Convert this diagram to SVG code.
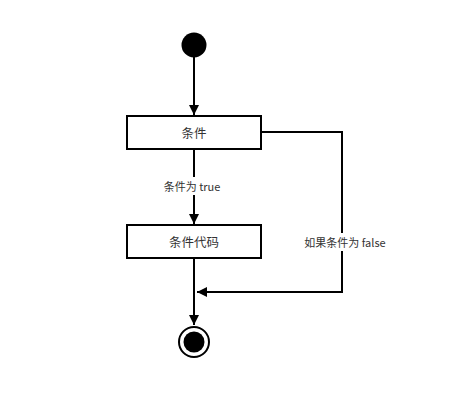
<svg xmlns="http://www.w3.org/2000/svg" width="466" height="400" viewBox="0 0 466 400">
<defs>
<style>
.node rect{fill:#fff;stroke:#000;stroke-width:2}
.t{font-family:"Noto Sans CJK SC","Noto Sans",sans-serif;fill:#333;text-anchor:middle;dominant-baseline:central}
.edge{fill:none;stroke:#000;stroke-width:2}
</style>
<marker id="arr" viewBox="0 0 10 10" refX="10" refY="5" markerWidth="12" markerHeight="10" markerUnits="userSpaceOnUse" orient="auto">
<path d="M0,0 L10,5 L0,10 z" fill="#000"/>
</marker>
</defs>
<rect width="466" height="400" fill="#fff"/>
<g id="connectors">
<path class="edge" d="M194,57 V115" marker-end="url(#arr)"/>
<path class="edge" d="M194,149 V224" marker-end="url(#arr)"/>
<path class="edge" d="M261,132 H342 V292 H197" marker-end="url(#arr)"/>
<path class="edge" d="M194,258 V325" marker-end="url(#arr)"/>
<rect x="161" y="177" width="64" height="18" fill="#fff"/>
<text class="t" x="192" y="186" font-size="11">条件为 true</text>
<rect x="300" y="233" width="90" height="18" fill="#fff"/>
<text class="t" x="345" y="242" font-size="11">如果条件为 false</text>
</g>
<g id="start"><circle cx="194" cy="45" r="12.5" fill="#000"/></g>
<g id="cond" class="node">
<rect x="127" y="116" width="134" height="33"/>
<text class="t" x="194" y="132" font-size="12.5">条件</text>
</g>
<g id="code" class="node">
<rect x="127" y="225" width="134" height="33"/>
<text class="t" x="194" y="241" font-size="12.5">条件代码</text>
</g>
<g id="end">
<circle cx="194" cy="342" r="15" fill="#fff" stroke="#000" stroke-width="2"/>
<circle cx="194" cy="342" r="10.5" fill="#000"/>
</g>
</svg>
